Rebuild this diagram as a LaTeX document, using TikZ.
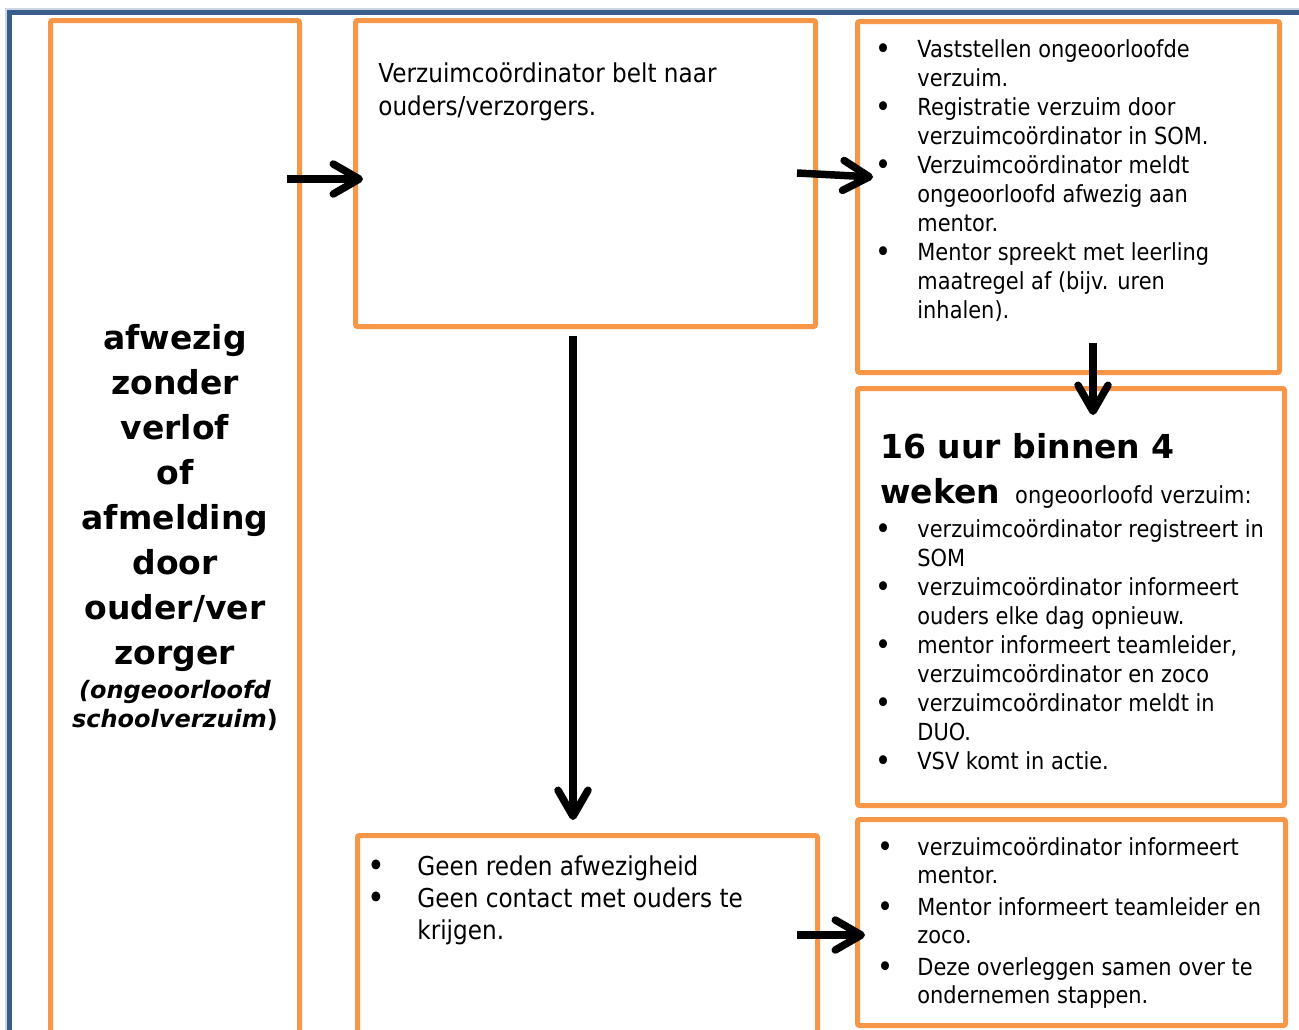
\documentclass[tikz,border=0pt]{standalone}
\usepackage{fontspec}
\usepackage{graphicx}
\setmainfont{DejaVu Sans}
\newfontfamily\bodyfont{DejaVu Sans}[FakeStretch=0.89]
\usetikzlibrary{arrows.meta,calc,fit}

\definecolor{kaderblauw}{RGB}{56,93,138}
\definecolor{kaderoranje}{RGB}{247,150,70}

\newcommand\stip{\raisebox{-1.3pt}{\scalebox{1.3}{•}}}

\tikzset{
  kader/.style={draw=kaderoranje,line width=2.5pt,rounded corners=1pt,inner sep=0pt,outer sep=0pt},
  pijl/.style={line width=3.75pt,-{Straight Barb[round,length=13pt,width=15pt]}},
  tekst/.style={inner sep=0pt,anchor=base west},
  kop/.style={inner sep=0pt,font=\bfseries\fontsize{16.5}{22.5}\selectfont},
  klein/.style={font=\bodyfont\fontsize{11.75}{14.5}\selectfont},
  groot/.style={font=\bodyfont\fontsize{13}{16}\selectfont}
}

\begin{document}
\begin{tikzpicture}[x=0.5pt,y=-0.5pt]
      \useasboundingbox (0,0) rectangle (1299,1029);
      \clip (0,0) rectangle (1299,1029);

      \draw[kaderblauw!25,line width=0.6pt] (6,1040) -- (6,9) -- (1310,9);
      \draw[kaderblauw,line width=2.25pt] (9.5,1040) -- (9.5,12.5) -- (1310,12.5);

      \node [kader,fit={(50.5,20.5) (299.5,1045)}] (afwezig) {};
      \node [kader,fit={(355.5,20.5) (815.5,326.5)}] (belt) {};
      \node [kader,fit={(857.5,21.5) (1279.5,372.5)}] (vast) {};
      \node [kader,fit={(857.5,388.5) (1284.5,805.5)}] (uren) {};
      \node [kader,fit={(357.5,835.5) (817.5,1045)}] (geen) {};
      \node [kader,fit={(857.5,819.5) (1285.5,1025.5)}] (inform) {};

      \node [kop,anchor=base] (tA) at (175,349) {\begin{tabular}[t]{@{}c@{}}
        afwezig\\ zonder\\ verlof\\ of\\ afmelding\\ door\\ ouder/ver\\ zorger
      \end{tabular}};
      \node [inner sep=0pt,anchor=base,font=\bfseries\fontsize{12}{14.5}\selectfont] (tA2) at (175,698) {\begin{tabular}[t]{@{}c@{}}
        \itshape (ongeoorloofd\\ {\itshape schoolverzuim})
      \end{tabular}};

      \node [tekst,font=\bodyfont\fontsize{13}{16.5}\selectfont] (tB) at (378,82) {\begin{tabular}[t]{@{}l@{}}
        Verzuimcoördinator belt naar\\ ouders/verzorgers.
      \end{tabular}};

      \node [tekst,klein] (tC) at (875,57) {\begin{tabular}[t]{@{}p{21pt}@{}l@{}}
        \stip & Vaststellen ongeoorloofde\\
          & verzuim.\\
        \stip & Registratie verzuim door\\
          & verzuimcoördinator in SOM.\\
        \stip & Verzuimcoördinator meldt\\
          & ongeoorloofd afwezig aan\\
          & mentor.\\
        \stip & Mentor spreekt met leerling\\
          & maatregel af (bijv. uren\\
          & inhalen).
      \end{tabular}};

      \node [tekst,kop] (tD) at (880,458) {\begin{tabular}[t]{@{}l@{}}
        16 uur binnen 4\\
        weken\hspace{7.5pt}{\mdseries\bodyfont\fontsize{11.75}{14.5}\selectfont ongeoorloofd verzuim:}
      \end{tabular}};
      \node [tekst,klein] (tD2) at (875,537) {\begin{tabular}[t]{@{}p{21pt}@{}l@{}}
        \stip & verzuimcoördinator registreert in\\
          & SOM\\
        \stip & verzuimcoördinator informeert\\
          & ouders elke dag opnieuw.\\
        \stip & mentor informeert teamleider,\\
          & verzuimcoördinator en zoco\\
        \stip & verzuimcoördinator meldt in\\
          & DUO.\\
        \stip & VSV komt in actie.
      \end{tabular}};

      \node [tekst,groot] (tE) at (367,875) {\begin{tabular}[t]{@{}p{25pt}@{}l@{}}
        \stip & Geen reden afwezigheid\\
        \stip & Geen contact met ouders te\\
          & krijgen.
      \end{tabular}};

      \node [tekst,font=\bodyfont\fontsize{11.75}{14}\selectfont] (tF) at (877,855) {\begin{tabular}[t]{@{}p{20pt}@{}l@{}}
        \stip & verzuimcoördinator informeert\\
          & mentor.\\[2pt]
        \stip & Mentor informeert teamleider en\\
          & zoco.\\[2pt]
        \stip & Deze overleggen samen over te\\
          & ondernemen stappen.
      \end{tabular}};

      \coordinate (p1) at (287,179);
      \coordinate (p2) at (797,173);
      \coordinate (p3) at (1093,343);
      \coordinate (p4) at (573,336);
      \coordinate (p5) at (797,935);
      \draw [pijl] (p1) -- ($(p1 -| belt.west)+(7.5,0)$);
      \draw [pijl] (p2) -- ($(p2 -| vast.west)+(15.5,4)$);
      \draw [pijl] (p3) -- ($(p3 |- uren.north)+(0,26.5)$);
      \draw [pijl] (p4) -- ($(p4 |- geen.north)+(0,-15.5)$);
      \draw [pijl] (p5) -- ($(p5 -| inform.west)+(7.5,0)$);
    \end{tikzpicture}
\end{document}
